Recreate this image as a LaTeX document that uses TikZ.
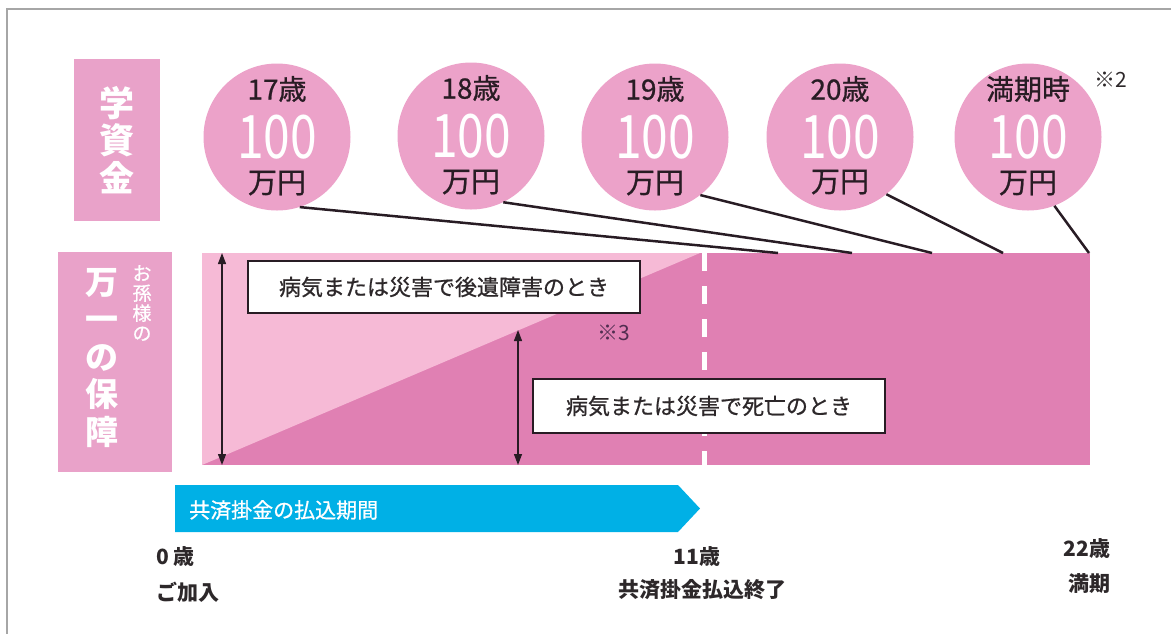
\documentclass[tikz,border=0pt]{standalone}
\usepackage{fontspec}
\setmainfont{Noto Sans CJK JP}
\newfontfamily\jpcond[FakeStretch=0.8]{Noto Sans CJK JP}
\newfontfamily\jpmed[FakeBold=0.8]{Noto Sans CJK JP}
\usetikzlibrary{arrows.meta}
\definecolor{lblpink}{RGB}{233,162,201}
\definecolor{circpink}{RGB}{236,162,201}
\definecolor{bandpink}{RGB}{224,128,179}
\definecolor{lightpink}{RGB}{246,186,214}
\definecolor{skyblue}{RGB}{0,176,230}
\definecolor{txtdark}{RGB}{40,28,36}
\definecolor{boxtxt}{RGB}{45,40,42}
\definecolor{notepurple}{RGB}{80,45,80}
\tikzset{
  circ/.style={circle,fill=circpink,minimum size=147,inner sep=0},
  agetxt/.style={text=txtdark,font=\jpmed\fontsize{28}{30}\selectfont,inner sep=0},
  bigtxt/.style={text=white,font=\jpcond\fontsize{60}{62}\selectfont,inner sep=0},
  yentxt/.style={text=txtdark,font=\jpmed\fontsize{29}{31}\selectfont,inner sep=0},
  link/.style={line width=2.5,txtdark},
  infobox/.style={draw=txtdark,line width=1.3,fill=white,text=boxtxt,font=\jpmed\fontsize{22}{24}\selectfont,inner sep=0},
  dimarrow/.style={{Triangle[length=11,width=8]}-{Triangle[length=11,width=8]},line width=1.3,txtdark},
  bottomtxt/.style={text=boxtxt,font=\bfseries\fontsize{21}{23}\selectfont,inner sep=0},
  note/.style={font=\fontsize{21}{22}\selectfont,inner sep=0}
}
\begin{document}
\begin{tikzpicture}[x=1pt,y=-1pt]
\useasboundingbox (0,0) rectangle (1171,633);
% outer frame
\draw[gray!70,line width=1.8] (7,640) -- (7,9) -- (1180,9);

% label boxes
\node[fill=lblpink,minimum width=86,minimum height=162,inner sep=0,text=white,align=center,
      font=\bfseries\fontsize{35}{37.5}\selectfont] (lab1) at (117,140) {学\\資\\金};
\node[fill=lblpink,minimum width=114,minimum height=220,inner sep=0] (lab2) at (115,362) {};
\node[text=white,align=center,inner sep=0,font=\bfseries\fontsize{33}{37.5}\selectfont] (mv1) at (102,358) {万\\一\\の\\保\\障};
\node[text=white,align=center,inner sep=0,font=\jpmed\fontsize{19}{20}\selectfont] (mv2) at (142,303) {お\\孫\\様\\の};

% circles
\node[circ] (c1) at (277,137) {};
\node[circ] (c2) at (471,136) {};
\node[circ] (c3) at (655,137) {};
\node[circ] (c4) at (840,137) {};
\node[circ] (c5) at (1028,137) {};
\node[agetxt] (a1) at (277,89) {17歳};
\node[agetxt] (a2) at (471,88) {18歳};
\node[agetxt] (a3) at (655,89) {19歳};
\node[agetxt] (a4) at (840,89) {20歳};
\node[agetxt] (a5) at (1028,89) {満期時};
\node[bigtxt] (b1) at (277,137) {100};
\node[bigtxt] (b2) at (471,136) {100};
\node[bigtxt] (b3) at (655,137) {100};
\node[bigtxt] (b4) at (840,137) {100};
\node[bigtxt] (b5) at (1028,137) {100};
\node[yentxt] (y1) at (277,183) {万円};
\node[yentxt] (y2) at (471,182) {万円};
\node[yentxt] (y3) at (655,183) {万円};
\node[yentxt] (y4) at (840,182) {万円};
\node[yentxt] (y5) at (1028,183) {万円};
\node[note,text=boxtxt] (n2) at (1111,80) {※2};

% band
\fill[bandpink] (202,253) rectangle (1090,465);
\fill[lightpink] (202,253) -- (700,253) -- (202,465) -- cycle;
\coordinate (dtop) at (704,253);
\coordinate (dbot) at (704,465);
\draw[white,line width=5,dash pattern=on 18 off 15] (dtop) -- (dbot);

% links
\coordinate (e1) at (778,253);
\coordinate (e2) at (852,253);
\coordinate (e3) at (932,253);
\coordinate (e4) at (1003,253);
\coordinate (e5) at (1089,253);
\draw[link] (c1.-72) -- (e1);
\draw[link] (c2.-64) -- (e2);
\draw[link] (c3.-52) -- (e3);
\draw[link] (c4.-51) -- (e4);
\draw[link] (c5.-69) -- (e5);

% dimension arrows
\coordinate (ar1t) at (222,253);
\coordinate (ar1b) at (222,465);
\coordinate (ar2t) at (518,330);
\coordinate (ar2b) at (518,465);
\draw[dimarrow] (ar1t) -- (ar1b);
\draw[dimarrow] (ar2t) -- (ar2b);

% info boxes
\node[infobox,minimum width=392,minimum height=52] (box1) at (444,287) {病気または災害で後遺障害のとき};
\node[infobox,minimum width=352,minimum height=54] (box2) at (709,406) {病気または災害で死亡のとき};
\node[note,text=notepurple] (n3) at (614,333) {※3};

% payment arrow
\fill[skyblue] (175,485) -- (678,485) -- (700,508.5) -- (678,532) -- (175,532) -- cycle;
\node[text=white,anchor=west,inner sep=0,font=\jpmed\fontsize{21}{23}\selectfont] (pay) at (189,510) {共済掛金の払込期間};

% bottom labels
\node[bottomtxt,anchor=west] (l0a) at (156,557) {0 歳};
\node[bottomtxt,anchor=west] (l0b) at (156,592) {ご加入};
\node[bottomtxt] (l1a) at (697,557) {11歳};
\node[bottomtxt] (l1b) at (702,590) {共済掛金払込終了};
\node[bottomtxt] (l2a) at (1087,549) {22歳};
\node[bottomtxt] (l2b) at (1089,584) {満期};
\end{tikzpicture}
\end{document}
